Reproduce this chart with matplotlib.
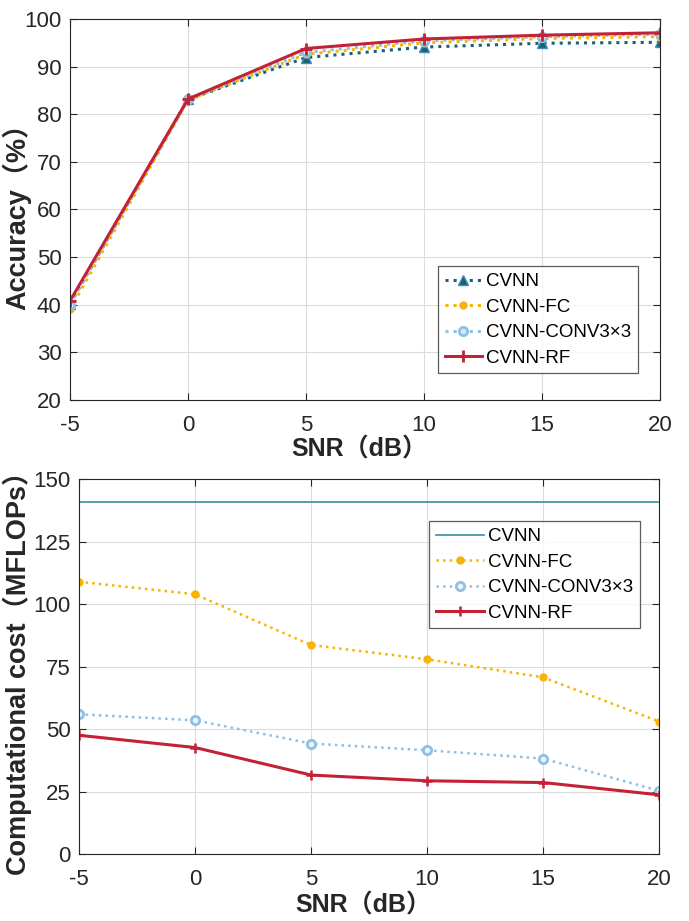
import matplotlib
matplotlib.use("Agg")
import matplotlib.pyplot as plt

snr = [-5, 0, 5, 10, 15, 20]

acc_cvnn = [40.2, 83.1, 91.9, 94.1, 94.9, 95.1]
acc_fc = [39.0, 83.0, 92.6, 95.0, 95.9, 96.3]
acc_conv = [40.0, 83.1, 93.0, 95.4, 96.3, 96.8]
acc_rf = [40.8, 83.2, 93.8, 95.8, 96.6, 97.1]

cost_cvnn = [141, 141, 141, 141, 141, 141]
cost_fc = [108.9, 103.9, 83.6, 77.9, 70.7, 53.0]
cost_conv = [55.9, 53.5, 44.2, 41.5, 38.2, 25.3]
cost_rf = [47.5, 42.6, 31.6, 29.3, 28.6, 23.7]

labels = ["CVNN", "CVNN-FC", "CVNN-CONV3\u00d73", "CVNN-RF"]

c_cvnn = "#17607E"
c_cvnn2 = "#4D93B3"
c_fc = "#F7B500"
c_conv = "#8EC0E4"
c_rf = "#C42036"

fam = ["Liberation Sans", "Noto Sans CJK SC", "DejaVu Sans"]
plt.rcParams["font.family"] = fam

fig = plt.figure(figsize=(6.89, 9.21), dpi=100)
ax1 = fig.add_axes([0.1016, 0.5657, 0.8563, 0.4137])
ax2 = fig.add_axes([0.1147, 0.0727, 0.8418, 0.4072])


def style(ax, yticks, ylim, xlab_y):
    ax.set_xlim(-5, 20)
    ax.set_xticks(snr)
    ax.set_xticklabels([str(v) for v in snr])
    ax.set_ylim(*ylim)
    ax.set_yticks(yticks)
    ax.grid(True, color="#DCDCDC", linewidth=0.8)
    ax.set_axisbelow(True)
    ax.tick_params(direction="in", length=5, width=0.8, colors="#262626",
                   labelsize=16, top=True, right=True)
    ax.tick_params(axis="x", pad=11)
    ax.tick_params(axis="y", pad=6)
    for s in ax.spines.values():
        s.set_color("#262626")
        s.set_linewidth(0.8)
    ax.set_xlabel("SNR\uff08dB\uff09", fontsize=18, fontweight="bold",
                  color="#262626", va="center")
    ax.xaxis.set_label_coords(0.49, xlab_y)


# Top chart
ax1.plot(snr, acc_cvnn, linestyle=":", color=c_cvnn, linewidth=2.2,
         marker="^", markersize=7, markerfacecolor=c_cvnn,
         markeredgecolor="#3F8FB0", label=labels[0])
ax1.plot(snr, acc_fc, linestyle=":", color=c_fc, linewidth=2.2,
         marker="o", markersize=5, markerfacecolor=c_fc,
         markeredgecolor=c_fc, label=labels[1])
ax1.plot(snr, acc_conv, linestyle=":", color=c_conv, linewidth=2.2,
         marker="o", markersize=6, markerfacecolor="#D5E8F5",
         markeredgecolor=c_conv, markeredgewidth=2, label=labels[2])
ax1.plot(snr, acc_rf, linestyle="-", color=c_rf, linewidth=2.2,
         marker="+", markersize=8, markeredgewidth=2, label=labels[3])
style(ax1, list(range(20, 101, 10)), (20, 100), -0.131)
ax1.set_ylabel("Accuracy\uff08%\uff09", fontsize=19.5, fontweight="bold",
               color="#262626", va="center")
ax1.yaxis.set_label_coords(-0.090, 0.5)
leg1 = ax1.legend(loc="lower right", bbox_to_anchor=(0.962, 0.07),
                  fontsize=13.5, frameon=True, fancybox=False,
                  edgecolor="#333333", handlelength=2.0, handletextpad=0.2,
                  borderpad=0.35, labelspacing=0.45, borderaxespad=0)
leg1.get_frame().set_linewidth(0.9)

# Bottom chart
ax2.plot(snr, cost_cvnn, linestyle="-", color=c_cvnn2, linewidth=1.3,
         label=labels[0])
ax2.plot(snr, cost_fc, linestyle=":", color=c_fc, linewidth=1.8,
         marker="o", markersize=5, markerfacecolor=c_fc,
         markeredgecolor=c_fc, label=labels[1])
ax2.plot(snr, cost_conv, linestyle=":", color=c_conv, linewidth=1.8,
         marker="o", markersize=6, markerfacecolor="#EAF3FA",
         markeredgecolor=c_conv, markeredgewidth=2, label=labels[2])
ax2.plot(snr, cost_rf, linestyle="-", color=c_rf, linewidth=2.2,
         marker="+", markersize=7, markeredgewidth=1.8, label=labels[3])
style(ax2, list(range(0, 151, 25)), (0, 150), -0.136)
ax2.set_ylabel("Computational cost\uff08MFLOPs\uff09", fontsize=19.5,
               fontweight="bold", color="#262626", va="center")
ax2.yaxis.set_label_coords(-0.107, 0.5)
leg2 = ax2.legend(loc="upper right", bbox_to_anchor=(0.967, 0.887),
                  fontsize=13.5, frameon=True, fancybox=False,
                  edgecolor="#333333", handlelength=2.6, handletextpad=0.2,
                  borderpad=0.35, labelspacing=0.45, borderaxespad=0)
leg2.get_frame().set_linewidth(0.9)

fig.savefig("out.png", dpi=100)
